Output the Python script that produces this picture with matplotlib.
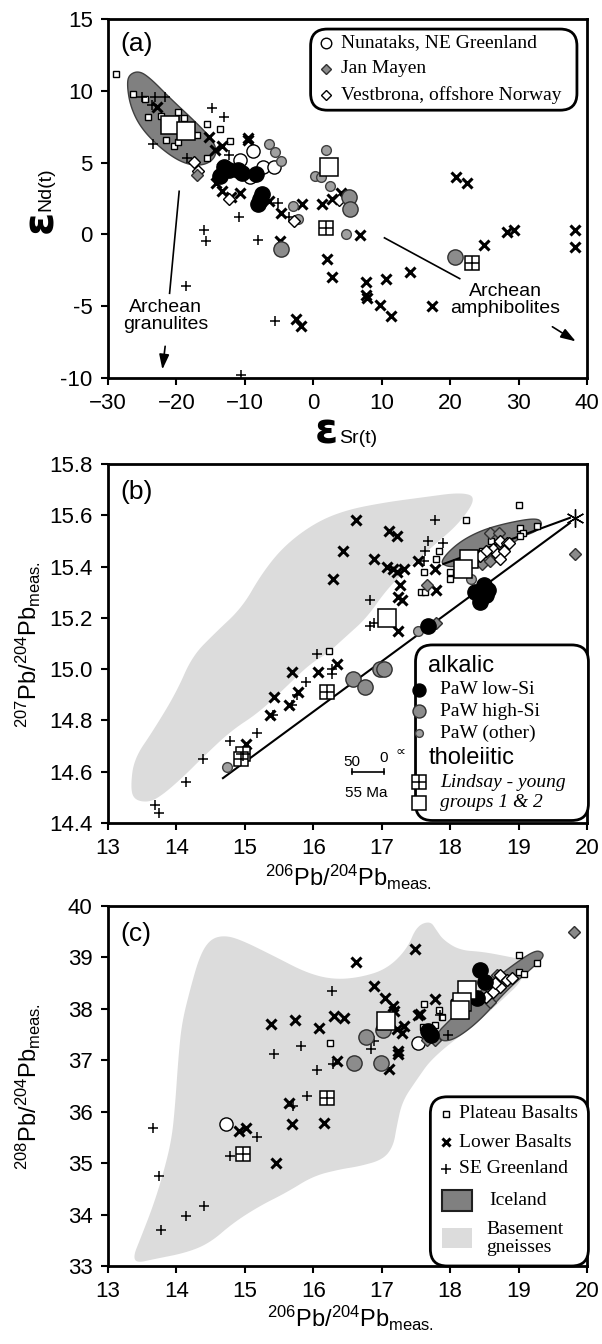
import numpy as np
import matplotlib
matplotlib.use('Agg')
import matplotlib.pyplot as plt
from matplotlib.patches import Polygon, FancyBboxPatch, Rectangle

plt.rcParams['font.family'] = ['Liberation Sans', 'DejaVu Sans']
plt.rcParams['mathtext.fontset'] = 'custom'
plt.rcParams['mathtext.rm'] = 'Liberation Sans'
plt.rcParams['mathtext.it'] = 'Liberation Sans:italic'

# ---------------- Panel (a): eNd vs eSr ----------------
a_iceland_x = [-27.0, -25.5, -23.8, -20.9, -17.5, -15.3, -14.2, -14.3, -15.5, -17.5, -19.9, -22.8, -25.3, -26.7, -27.2]
a_iceland_y = [11.1, 11.4, 10.87, 9.47, 7.96, 6.9, 6.1, 5.4, 4.9, 4.78, 5.17, 6.2, 7.5, 8.9, 10.3]

a_plateau_x = [-28.8, -26.35, -24.65, -24.2, -22.2, -19.8, -18.9, -21.5, -20.4, -19.7, -17.0, -15.6, -13.7, -15.5, -12.1, 3.7]
a_plateau_y = [11.15, 9.75, 9.42, 8.15, 8.26, 8.5, 8.12, 6.6, 6.15, 6.45, 6.9, 7.66, 7.33, 5.33, 6.52, 2.5]
a_bigsq_x = [-21.0, -18.6, 2.3]
a_bigsq_y = [7.6, 7.2, 4.7]
a_lindsay_x = [1.9, 23.2]
a_lindsay_y = [0.46, -1.96]
a_black_x = [-13.6, -13.0, -12.3, -11.0, -10.4, -8.3, -7.5, -8.1, -7.8]
a_black_y = [4.1, 4.7, 4.5, 4.45, 4.3, 4.2, 2.8, 2.1, 2.5]
a_graybig_x = [-4.7, 5.2, 5.3, 20.7]
a_graybig_y = [-1.0, 2.6, 1.8, -1.57]
a_graysm_x = [-6.4, -5.6, -4.7, 1.9, 0.3, 1.2, 2.4, -2.9, -2.2, 4.8]
a_graysm_y = [6.3, 5.75, 5.1, 5.9, 4.1, 4.0, 3.4, 2.0, 1.06, 0.06]
a_nunatak_x = [-8.8, -10.7, -7.3, -5.8, -9.3]
a_nunatak_y = [5.8, 5.17, 4.7, 4.7, 4.0]
a_jan_x = [-17.0]
a_jan_y = [4.15]
a_vest_x = [-17.5, -12.3, -8.5, -2.8, 3.7, -16.8]
a_vest_y = [5.05, 2.5, 4.08, 0.94, 2.43, 4.4]
a_lower_x = [-22.8, -15.3, -14.4, -13.4, -13.4, -9.6, -9.6, -14.2, -13.4, -12.0, -10.7, -6.4, -4.7, -1.6, 1.3,
             2.8, 4.0, 6.8, 2.0, 2.8, 7.7, 7.7, 7.8, 9.8, 10.6, 11.3, 14.1, 17.4, 20.8, 22.5, 24.9, 28.3, 29.4,
             38.3, 38.3, -2.5, -1.8, -4.8]
a_lower_y = [8.9, 6.8, 5.85, 6.15, 4.6, 6.7, 6.55, 3.6, 3.0, 2.6, 2.9, 2.3, 1.5, 2.1, 2.1,
             2.5, 2.9, -0.06, -1.7, -3.0, -3.3, -4.2, -4.4, -4.9, -3.1, -5.7, -2.6, -5.0, 4.0, 3.55, -0.75, 0.18, 0.34,
             0.3, -0.87, -5.9, -6.4, -0.45]
a_se_x = [-25.0, -23.2, -21.6, -23.4, -14.8, -13.0, -18.5, -10.9, -16.0, -15.7, -18.6, -8.1, -5.6, -5.1, -3.6, -10.6, -23.5, -12.3]
a_se_y = [9.54, 9.58, 9.54, 6.3, 8.78, 8.2, 5.3, 1.2, 0.3, -0.45, -3.6, -0.36, -6.05, 2.2, 1.2, -9.8, 9.0, 5.5]

# ---------------- Panel (b): 207Pb/204Pb vs 206Pb/204Pb ----------------
b_basement_x = [13.38, 13.33, 13.38, 13.66, 14.0, 14.23, 14.56, 14.96, 15.24, 15.57, 16.02, 16.47, 17.04, 17.6, 18.16,
                18.39, 18.14, 17.75, 17.41, 17.07, 16.78, 16.49, 16.2, 15.95, 15.6, 15.2, 14.8, 14.4, 14.1, 13.8, 13.6]
b_basement_y = [14.49, 14.54, 14.65, 14.76, 14.91, 15.05, 15.14, 15.24, 15.37, 15.48, 15.57, 15.62, 15.65, 15.67, 15.69,
                15.67, 15.57, 15.48, 15.40, 15.31, 15.20, 15.13, 15.06, 15.02, 14.93, 14.83, 14.76, 14.66, 14.58, 14.51, 14.48]
b_iceland_x = [17.85, 18.10, 18.44, 18.83, 19.26, 19.35, 19.29, 18.97, 18.78, 18.63, 18.44, 18.1, 17.95]
b_iceland_y = [15.42, 15.49, 15.54, 15.57, 15.59, 15.57, 15.54, 15.51, 15.44, 15.41, 15.41, 15.40, 15.40]
b_line1_x = [14.68, 19.75]
b_line1_y = [14.575, 15.57]
b_line2_x = [17.9, 19.75]
b_line2_y = [15.41, 15.59]
b_star_x = [19.82]
b_star_y = [15.59]

b_plateau_x = [19.01, 18.23, 19.02, 19.06, 19.27, 19.02, 17.83, 17.8, 17.62, 18.0, 18.0, 17.58, 17.63, 16.23, 18.46, 18.6]
b_plateau_y = [15.64, 15.58, 15.55, 15.53, 15.56, 15.52, 15.46, 15.43, 15.38, 15.35, 15.38, 15.30, 15.30, 15.07, 15.46, 15.50]
b_bigsq_x = [18.27, 18.19, 17.07]
b_bigsq_y = [15.43, 15.39, 15.20]
b_lindsay_x = [16.2, 14.97, 14.95]
b_lindsay_y = [14.91, 14.67, 14.65]
b_black_x = [17.68, 18.49, 18.56, 18.44, 18.37, 18.44, 18.52]
b_black_y = [15.17, 15.33, 15.31, 15.28, 15.30, 15.26, 15.29]
b_graybig_x = [16.58, 16.76, 16.97, 17.03]
b_graybig_y = [14.96, 14.93, 15.0, 15.0]
b_graysm_x = [14.74, 18.31, 17.53, 18.55]
b_graysm_y = [14.62, 15.35, 15.15, 15.43]
b_jan_x = [19.82, 17.66, 17.79, 18.58, 18.72, 18.46, 18.58]
b_jan_y = [15.45, 15.33, 15.18, 15.53, 15.53, 15.41, 15.42]
b_vest_x = [18.73, 18.83, 18.63, 18.53, 18.68, 18.78, 18.44, 18.73, 18.86]
b_vest_y = [15.50, 15.49, 15.47, 15.46, 15.45, 15.46, 15.44, 15.43, 15.49]
b_lower_x = [16.63, 17.1, 17.23, 16.44, 16.29, 16.88, 17.07, 17.17, 17.32, 17.22, 17.53, 17.78, 17.8, 17.27, 17.24,
             17.3, 17.24, 16.34, 16.07, 15.69, 15.43, 15.64, 15.77, 15.37, 15.01]
b_lower_y = [15.58, 15.54, 15.52, 15.46, 15.35, 15.43, 15.40, 15.39, 15.39, 15.38, 15.42, 15.39, 15.31, 15.33, 15.28,
             15.27, 15.15, 15.02, 14.99, 14.99, 14.89, 14.86, 14.91, 14.82, 14.71]
b_se_x = [17.78, 17.68, 17.89, 17.63, 17.62, 16.83, 16.83, 16.88, 16.05, 16.27, 16.28, 15.9, 15.69, 15.76, 15.41,
          15.18, 14.79, 14.39, 14.14, 13.69, 13.75]
b_se_y = [15.58, 15.50, 15.49, 15.46, 15.42, 15.27, 15.17, 15.18, 15.06, 14.98, 15.00, 14.95, 14.86, 14.90, 14.82,
          14.75, 14.72, 14.65, 14.56, 14.47, 14.44]

# ---------------- Panel (c): 208Pb/204Pb vs 206Pb/204Pb ----------------
c_basement_x = [13.42, 13.37, 13.47, 13.66, 13.81, 13.93, 13.98, 14.03, 14.08, 14.2, 14.34, 14.49, 14.69, 14.93, 15.42,
                15.90, 16.29, 16.68, 17.07, 17.37, 17.51, 17.71, 17.8, 17.9, 18.14, 18.48, 18.87, 19.1, 19.07, 18.73,
                18.39, 17.75, 17.5, 17.3, 17.22, 17.17, 17.02, 16.68, 16.39, 16.0, 15.61, 15.22, 14.83, 14.49, 14.15, 13.66]
c_basement_y = [33.06, 33.19, 33.52, 34.17, 34.81, 35.46, 36.11, 37.08, 37.73, 38.38, 39.03, 39.35, 39.43, 39.35, 39.03,
                38.70, 38.57, 38.61, 38.77, 39.16, 39.61, 39.71, 39.53, 39.34, 39.14, 39.11, 39.01, 38.95, 38.56, 38.14,
                37.72, 37.07, 36.6, 36.2, 35.72, 35.33, 35.07, 34.94, 34.88, 34.75, 34.43, 34.17, 33.84, 33.45, 33.26, 33.13]
c_iceland_x = [17.83, 17.9, 18.1, 18.44, 18.83, 19.22, 19.37, 19.34, 19.24, 19.02, 18.63, 18.24, 17.95, 17.83]
c_iceland_y = [37.46, 37.36, 37.43, 37.78, 38.37, 38.82, 39.01, 39.11, 39.13, 38.95, 38.56, 38.11, 37.72, 37.56]

c_plateau_x = [16.24, 17.62, 19.0, 19.0, 19.08, 19.27, 17.83, 18.05, 17.78, 17.6, 17.88]
c_plateau_y = [37.33, 38.1, 39.05, 38.72, 38.68, 38.89, 37.98, 38.14, 37.69, 37.65, 37.85]
c_bigsq_x = [17.06, 18.24, 18.17, 18.14]
c_bigsq_y = [37.76, 38.37, 38.14, 37.98]
c_lindsay_x = [16.20, 14.97]
c_lindsay_y = [36.27, 35.17]
c_black_x = [18.44, 18.51, 18.39, 17.68, 17.72]
c_black_y = [38.76, 38.53, 38.21, 37.56, 37.5]
c_graybig_x = [16.77, 17.02, 16.6, 16.99]
c_graybig_y = [37.46, 37.59, 36.95, 36.95]
c_nunatak_x = [14.73, 17.53]
c_nunatak_y = [35.76, 37.33]
c_jan_x = [19.81, 18.68, 18.58, 17.78, 17.66]
c_jan_y = [39.5, 38.66, 38.14, 37.39, 37.39]
c_vest_x = [18.73, 18.83, 18.73, 18.63, 18.53, 18.65, 18.9]
c_vest_y = [38.66, 38.57, 38.43, 38.33, 38.24, 38.5, 38.6]
c_lower_x = [15.38, 15.74, 16.08, 16.30, 16.45, 16.35, 16.63, 16.89, 17.05, 17.16, 17.18, 17.49, 17.11, 17.24, 17.24,
             17.53, 15.65, 15.69, 16.16, 14.92, 15.01, 15.45, 17.23, 17.32, 17.29, 17.78, 17.56]
c_lower_y = [37.70, 37.78, 37.63, 37.86, 37.82, 36.99, 38.92, 38.44, 38.22, 38.06, 37.95, 39.16, 36.84, 37.18, 37.12,
             37.89, 36.16, 35.76, 35.79, 35.63, 35.69, 35.01, 37.60, 37.67, 37.54, 38.2, 37.9]
c_se_x = [13.66, 13.75, 13.77, 14.14, 14.40, 14.79, 15.18, 15.42, 15.82, 16.06, 16.28, 15.91, 15.71, 16.29, 16.84,
          16.88, 17.97, 17.85]
c_se_y = [35.69, 34.75, 33.70, 33.97, 34.17, 35.14, 35.51, 37.12, 37.28, 36.82, 38.35, 36.31, 36.12, 36.92, 37.21,
          37.38, 37.49, 37.88]

# ---------------- styles ----------------
DARK = '#808080'
LIGHT = '#dcdcdc'
ST = {
    'plateau': dict(marker='s', ms=5, mfc='white', mec='black', mew=1.0, ls='none'),
    'bigsq': dict(marker='s', ms=13, mfc='white', mec='black', mew=1.1, ls='none'),
    'lindsay_sq': dict(marker='s', ms=10, mfc='white', mec='black', mew=1.1, ls='none'),
    'lindsay_pl': dict(marker='+', ms=10, mec='black', mew=1.1, ls='none'),
    'black': dict(marker='o', ms=11, mfc='black', mec='black', mew=1.0, ls='none'),
    'graybig': dict(marker='o', ms=11, mfc='#8c8c8c', mec='#303030', mew=1.0, ls='none'),
    'graysm': dict(marker='o', ms=7, mfc='#a0a0a0', mec='#404040', mew=1.0, ls='none'),
    'nunatak': dict(marker='o', ms=9.5, mfc='white', mec='black', mew=1.0, ls='none'),
    'jan': dict(marker='D', ms=6.5, mfc='#8a8a8a', mec='#303030', mew=1.0, ls='none'),
    'vest': dict(marker='D', ms=6.5, mfc='white', mec='black', mew=1.0, ls='none'),
    'lower': dict(marker='x', ms=6.5, mec='black', mew=2.2, ls='none'),
    'se': dict(marker='+', ms=7.5, mec='black', mew=1.1, ls='none'),
}
SERIF = ['Liberation Serif', 'DejaVu Serif']


def smooth(xs, ys, n=4):
    p = np.column_stack([xs, ys]).astype(float)
    for _ in range(n):
        nxt = np.roll(p, -1, axis=0)
        q = 0.75 * p + 0.25 * nxt
        r = 0.25 * p + 0.75 * nxt
        new = np.empty((2 * len(q), 2))
        new[0::2] = q
        new[1::2] = r
        p = new
    return p


def field(ax, xs, ys, fc, ec, lw):
    ax.add_patch(Polygon(smooth(xs, ys), closed=True, fc=fc, ec=ec, lw=lw, zorder=1))


def pts(ax, xs, ys, key, z=3):
    ax.plot(xs, ys, zorder=z, **ST[key])


def lindsay(ax, xs, ys):
    ax.plot(xs, ys, zorder=4, **ST['lindsay_sq'])
    ax.plot(xs, ys, zorder=4.1, **ST['lindsay_pl'])


def style_axes(ax, xlim, ylim, xticks, yticks, yfmt):
    ax.set_xlim(*xlim)
    ax.set_ylim(*ylim)
    ax.set_xticks(xticks)
    ax.set_yticks(yticks)
    ax.set_yticklabels([yfmt.format(v) for v in yticks])
    ax.tick_params(direction='out', length=5, width=1.5, labelsize=16, pad=6, top=False, right=False)
    for s in ax.spines.values():
        s.set_linewidth(2.0)


def box(ax, x0, y0, x1, y1):
    ax.add_patch(FancyBboxPatch((x0, y0), x1 - x0, y1 - y0, boxstyle='round,pad=0,rounding_size=0.035',
                                mutation_aspect=479 / 359, transform=ax.transAxes, fc='white', ec='black',
                                lw=2.0, zorder=10, clip_on=False))


def leg_marker(ax, x, y, key, scale=1.0):
    st = dict(ST[key])
    st['ms'] = st['ms'] * scale
    ax.plot([x], [y], transform=ax.transAxes, clip_on=False, zorder=11, **st)


W, H = 602, 1344
fig = plt.figure(figsize=(W / 100, H / 100), dpi=100)


def axes_px(left, top, right, bottom):
    return fig.add_axes([left / W, 1 - bottom / H, (right - left) / W, (bottom - top) / H])


def ftext(x, y, s, **kw):
    fig.text(x / W, 1 - y / H, s, **kw)


# ======== Panel a ========
ax = axes_px(108, 19, 587, 378)
field(ax, a_iceland_x, a_iceland_y, DARK, '#404040', 1.0)
pts(ax, a_plateau_x, a_plateau_y, 'plateau')
pts(ax, a_se_x, a_se_y, 'se')
pts(ax, a_lower_x, a_lower_y, 'lower')
pts(ax, a_nunatak_x, a_nunatak_y, 'nunatak')
pts(ax, a_graysm_x, a_graysm_y, 'graysm')
pts(ax, a_vest_x, a_vest_y, 'vest')
pts(ax, a_jan_x, a_jan_y, 'jan')
pts(ax, a_black_x, a_black_y, 'black')
pts(ax, a_graybig_x, a_graybig_y, 'graybig')
pts(ax, a_bigsq_x, a_bigsq_y, 'bigsq', z=4)
lindsay(ax, a_lindsay_x, a_lindsay_y)
style_axes(ax, (-30, 40), (-10, 15), range(-30, 41, 10), [-10, -5, 0, 5, 10, 15], '{:d}')
ax.text(0.025, 0.965, '(a)', transform=ax.transAxes, fontsize=19, va='top', ha='left')
# annotations
ax.plot([-19.6, -21.0], [3.0, -4.1], color='black', lw=1.2)
ax.text(-21.6, -5.7, 'Archean\ngranulites', ha='center', va='center', fontsize=14, linespacing=1.0)
ax.annotate('', xy=(-22.1, -9.6), xytext=(-21.6, -7.6),
            arrowprops=dict(arrowstyle='-|>,head_length=0.9,head_width=0.3', color='black', lw=1.2))
ax.plot([10.4, 21.4], [-0.24, -3.08], color='black', lw=1.2)
ax.text(28.1, -4.6, 'Archean\namphibolites', ha='center', va='center', fontsize=14, linespacing=1.0)
ax.annotate('', xy=(38.7, -7.55), xytext=(34.6, -6.33),
            arrowprops=dict(arrowstyle='-|>,head_length=0.9,head_width=0.3', color='black', lw=1.2))
# legend
box(ax, 0.423, 0.746, 0.979, 0.972)
for yy, key, lab in [(0.934, 'nunatak', 'Nunataks, NE Greenland'), (0.861, 'jan', 'Jan Mayen'),
                     (0.788, 'vest', 'Vestbrona, offshore Norway')]:
    leg_marker(ax, 0.455, yy, key, 0.8)
    ax.text(0.487, yy, lab, transform=ax.transAxes, family=SERIF, fontsize=14, va='center', ha='left', zorder=12)
# axis labels (large epsilon with small subscript)
ftext(326, 443, 'ε', fontsize=30, family=['DejaVu Sans'], fontweight='bold', ha='center', va='baseline')
ftext(339, 443, 'Sr(t)', fontsize=14, ha='left', va='baseline')
ftext(40, 221, 'ε', fontsize=30, family=['DejaVu Sans'], fontweight='bold', ha='center', va='center', rotation=90)
ftext(54, 211, 'Nd(t)', fontsize=14, ha='right', va='bottom', rotation=90)

# ======== Panel b ========
ax = axes_px(108, 464, 587, 823)
field(ax, b_basement_x, b_basement_y, LIGHT, 'none', 0)
field(ax, b_iceland_x, b_iceland_y, DARK, '#404040', 1.0)
ax.plot(b_line1_x, b_line1_y, color='black', lw=1.5, zorder=2)
ax.plot(b_line2_x, b_line2_y, color='black', lw=1.5, zorder=2)
ax.plot(b_star_x, b_star_y, marker=(6, 2, 0), ms=13, mec='black', mew=1.0, ls='none', zorder=3, clip_on=False)
pts(ax, b_plateau_x, b_plateau_y, 'plateau')
pts(ax, b_se_x, b_se_y, 'se')
pts(ax, b_lower_x, b_lower_y, 'lower')
pts(ax, b_graysm_x, b_graysm_y, 'graysm')
pts(ax, b_jan_x, b_jan_y, 'jan')
pts(ax, b_vest_x, b_vest_y, 'vest')
pts(ax, b_black_x, b_black_y, 'black')
pts(ax, b_graybig_x, b_graybig_y, 'graybig')
pts(ax, b_bigsq_x, b_bigsq_y, 'bigsq', z=4)
lindsay(ax, b_lindsay_x, b_lindsay_y)
style_axes(ax, (13, 20), (14.4, 15.8), range(13, 21), [14.4, 14.6, 14.8, 15.0, 15.2, 15.4, 15.6, 15.8], '{:.1f}')
ax.text(0.025, 0.955, '(b)', transform=ax.transAxes, fontsize=19, va='top', ha='left')
# 55 Ma scale bar
ax.plot([16.56, 17.03], [14.60, 14.60], color='black', lw=1.2)
ax.plot([16.56, 16.56], [14.59, 14.61], color='black', lw=1.2)
ax.plot([17.03, 17.03], [14.59, 14.61], color='black', lw=1.2)
ax.text(16.56, 14.612, '50', fontsize=11, ha='center', va='bottom')
ax.text(17.03, 14.625, '0', fontsize=11, ha='center', va='bottom')
ax.text(17.27, 14.65, '∝', fontsize=10, ha='center', va='bottom', family=['DejaVu Sans'])
ax.text(16.78, 14.545, '55 Ma', fontsize=11, ha='center', va='top')
# legend
box(ax, 0.642, 0.007, 1.003, 0.496)
ax.text(0.669, 0.436, 'alkalic', transform=ax.transAxes, fontsize=17, va='center', ha='left', zorder=12)
for yy, key, lab in [(0.371, 'black', 'PaW low-Si'), (0.311, 'graybig', 'PaW high-Si'),
                     (0.250, 'graysm', 'PaW (other)')]:
    leg_marker(ax, 0.649, yy, key, 0.85 if key != 'graysm' else 0.8)
    ax.text(0.693, yy, lab, transform=ax.transAxes, family=SERIF, fontsize=14, va='center', ha='left', zorder=12)
ax.text(0.669, 0.181, 'tholeiitic', transform=ax.transAxes, fontsize=17, va='center', ha='left', zorder=12)
ax.plot([0.649], [0.114], transform=ax.transAxes, clip_on=False, zorder=11, **ST['lindsay_sq'])
ax.plot([0.649], [0.114], transform=ax.transAxes, clip_on=False, zorder=11.1, **ST['lindsay_pl'])
ax.text(0.693, 0.114, 'Lindsay - young', transform=ax.transAxes, family=SERIF, style='italic', fontsize=14,
        va='center', ha='left', zorder=12)
leg_marker(ax, 0.649, 0.056, 'bigsq', 0.8)
ax.text(0.693, 0.056, 'groups 1 & 2', transform=ax.transAxes, family=SERIF, style='italic', fontsize=14,
        va='center', ha='left', zorder=12)
ftext(348, 877, r'$^{206}$Pb/$^{204}$Pb$_{\mathrm{meas.}}$', fontsize=17, ha='center', va='center')
ftext(28, 645, r'$^{207}$Pb/$^{204}$Pb$_{\mathrm{meas.}}$', fontsize=17, ha='center', va='center', rotation=90)

# ======== Panel c ========
ax = axes_px(108, 906, 587, 1266)
field(ax, c_basement_x, c_basement_y, LIGHT, 'none', 0)
field(ax, c_iceland_x, c_iceland_y, DARK, '#404040', 1.0)
pts(ax, c_plateau_x, c_plateau_y, 'plateau')
pts(ax, c_se_x, c_se_y, 'se')
pts(ax, c_lower_x, c_lower_y, 'lower')
pts(ax, c_nunatak_x, c_nunatak_y, 'nunatak')
pts(ax, c_jan_x, c_jan_y, 'jan')
pts(ax, c_vest_x, c_vest_y, 'vest')
pts(ax, c_black_x, c_black_y, 'black')
pts(ax, c_graybig_x, c_graybig_y, 'graybig')
pts(ax, c_bigsq_x, c_bigsq_y, 'bigsq', z=4)
lindsay(ax, c_lindsay_x, c_lindsay_y)
style_axes(ax, (13, 20), (33, 40), range(13, 21), range(33, 41), '{:d}')
ax.text(0.025, 0.955, '(c)', transform=ax.transAxes, fontsize=19, va='top', ha='left')
box(ax, 0.673, 0.0, 1.003, 0.47)
for yy, key, lab in [(0.423, 'plateau', 'Plateau Basalts'), (0.344, 'lower', 'Lower Basalts'),
                     (0.270, 'se', 'SE Greenland')]:
    leg_marker(ax, 0.706, yy, key, 0.9)
    ax.text(0.733, yy, lab, transform=ax.transAxes, family=SERIF, fontsize=14, va='center', ha='left', zorder=12)
ax.add_patch(Rectangle((0.697, 0.154), 0.063, 0.056, transform=ax.transAxes, fc=DARK, ec='#202020', lw=1.5,
                       zorder=11, clip_on=False))
ax.text(0.797, 0.182, 'Iceland', transform=ax.transAxes, family=SERIF, fontsize=14, va='center', ha='left', zorder=12)
ax.add_patch(Rectangle((0.697, 0.049), 0.063, 0.056, transform=ax.transAxes, fc=LIGHT, ec='none',
                       zorder=11, clip_on=False))
ax.text(0.79, 0.077, 'Basement\ngneisses', transform=ax.transAxes, family=SERIF, fontsize=14, va='center',
        ha='left', zorder=12, linespacing=1.05)
ftext(350, 1318, r'$^{206}$Pb/$^{204}$Pb$_{\mathrm{meas.}}$', fontsize=17, ha='center', va='center')
ftext(28, 1087, r'$^{208}$Pb/$^{204}$Pb$_{\mathrm{meas.}}$', fontsize=17, ha='center', va='center', rotation=90)

fig.savefig('out.png', dpi=100)
